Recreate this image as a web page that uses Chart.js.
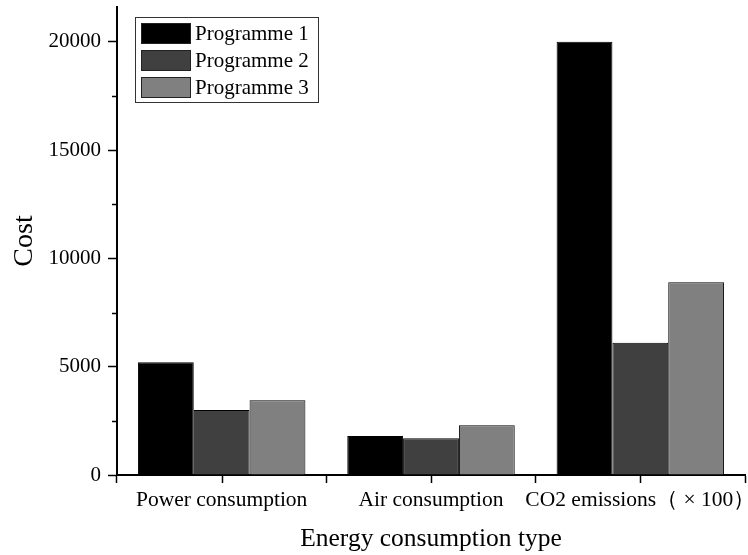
<!DOCTYPE html>
<html>
<head>
<meta charset="utf-8">
<script src="https://cdn.jsdelivr.net/npm/chart.js@4.4.0/dist/chart.umd.min.js"></script>
<style>
    html, body { margin: 0; padding: 0; background: #fff; }
    #wrap { width: 748px; height: 555px; }
</style>
</head>
<body>
<div id="wrap"><canvas id="cost-chart" width="748" height="555"></canvas></div>
<script>
const categories = ['Power consumption', 'Air consumption', 'CO2 emissions（ × 100）'];
const seriesNames = ['Programme 1', 'Programme 2', 'Programme 3'];
const programme1 = [5200, 1800, 20000];
const programme2 = [3000, 1700, 6100];
const programme3 = [3450, 2300, 8900];
const majorTicks = [0, 5000, 10000, 15000, 20000];
const minorTicks = [2500, 7500, 12500, 17500];

const FONT = "'Liberation Serif', 'Times New Roman', serif";
const colors = ['#000000', '#404040', '#808080'];

// minor ticks on y, centre ticks on x, and the boxed legend
const extrasPlugin = {
    id: 'extras',
    afterDraw(chart) {
        const ctx = chart.ctx;
        const x = chart.scales.x;
        const y = chart.scales.y;
        const area = chart.chartArea;
        ctx.save();
        ctx.strokeStyle = '#000';
        ctx.lineWidth = 1.5;
        minorTicks.forEach(v => {
            const py = Math.round(y.getPixelForValue(v)) + 0.5;
            ctx.beginPath();
            ctx.moveTo(area.left - 5, py);
            ctx.lineTo(area.left, py);
            ctx.stroke();
        });
        categories.forEach((c, i) => {
            const px = Math.round(x.getPixelForValue(i)) + 0.5;
            ctx.beginPath();
            ctx.moveTo(px, area.bottom);
            ctx.lineTo(px, area.bottom + 8);
            ctx.stroke();
        });

        // legend
        ctx.lineWidth = 1;
        ctx.strokeStyle = '#333';
        ctx.strokeRect(135.5, 17.5, 183, 85);
        ctx.font = '21px ' + FONT;
        ctx.textBaseline = 'middle';
        chart.data.datasets.forEach((ds, i) => {
            const top = 23.5 + i * 27;
            ctx.fillStyle = ds.backgroundColor;
            ctx.fillRect(141.5, top, 49, 20);
            ctx.strokeStyle = '#222';
            ctx.strokeRect(141.5, top, 49, 20);
            ctx.fillStyle = '#000';
            ctx.fillText(ds.label, 195, top + 10.5);
        });
        ctx.restore();
    }
};

function makeDataset(i, values) {
    return {
        label: seriesNames[i],
        data: values,
        backgroundColor: colors[i],
        borderColor: '#000',
        borderWidth: 1,
        barPercentage: 1.0,
        categoryPercentage: 0.8
    };
}

document.addEventListener('DOMContentLoaded', function() {
    const ctx = document.getElementById('cost-chart').getContext('2d');
    new Chart(ctx, {
        type: 'bar',
        data: {
            labels: categories,
            datasets: [
                makeDataset(0, programme1),
                makeDataset(1, programme2),
                makeDataset(2, programme3)
            ]
        },
        options: {
            responsive: false,
            animation: false,
            layout: { padding: { top: 7, right: 3, left: 0, bottom: 0 } },
            plugins: {
                legend: { display: false },
                tooltip: { enabled: false }
            },
            scales: {
                x: {
                    offset: true,
                    grid: {
                        display: true,
                        offset: true,
                        drawOnChartArea: false,
                        drawTicks: true,
                        tickLength: 8,
                        tickWidth: 1.5,
                        tickColor: '#000'
                    },
                    border: { display: true, color: '#000', width: 2 },
                    ticks: {
                        color: '#000',
                        font: { family: FONT, size: 21.5 },
                        padding: 4,
                        maxRotation: 0,
                        autoSkip: false
                    },
                    title: {
                        display: true,
                        text: 'Energy consumption type',
                        color: '#000',
                        font: { family: FONT, size: 25.5 },
                        padding: { top: 9, bottom: 0 }
                    },
                    afterFit(scale) {
                        scale.height = 80;
                        scale.paddingLeft = 0;
                        scale.paddingRight = 0;
                    }
                },
                y: {
                    min: 0,
                    max: 21600,
                    grid: {
                        display: true,
                        drawOnChartArea: false,
                        drawTicks: true,
                        tickLength: 9,
                        tickWidth: 1.5,
                        tickColor: '#000'
                    },
                    border: { display: true, color: '#000', width: 2 },
                    afterBuildTicks(scale) {
                        scale.ticks = majorTicks.map(v => ({ value: v }));
                    },
                    ticks: {
                        color: '#000',
                        font: { family: FONT, size: 21 },
                        padding: 7,
                        callback: v => String(v)
                    },
                    title: {
                        display: true,
                        text: 'Cost',
                        color: '#000',
                        font: { family: FONT, size: 28 },
                        padding: { top: 8, bottom: 0 }
                    },
                    afterFit(scale) {
                        scale.width = 117;
                        scale.paddingTop = 0;
                        scale.paddingBottom = 0;
                    }
                }
            }
        },
        plugins: [extrasPlugin]
    });
});
</script>
</body>
</html>
